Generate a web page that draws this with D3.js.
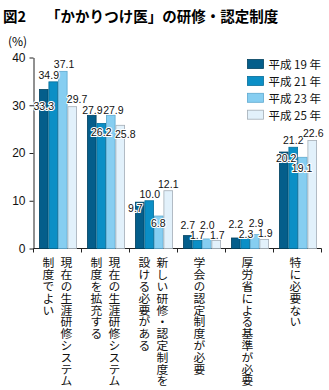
<!DOCTYPE html>
<html>
<head>
<meta charset="utf-8">
<script src="https://cdn.jsdelivr.net/npm/d3@7"></script>
<style>
  html, body { margin: 0; padding: 0; background: #fff; }
  svg { display: block; }
  .jp { font-family: "Noto Sans CJK JP", "Noto Sans", sans-serif; }
  .num { font-family: "Liberation Sans", Arial, sans-serif; }
  .vert { writing-mode: vertical-rl; text-orientation: upright; }
</style>
</head>
<body>
<svg id="chart" width="329" height="390"></svg>
<script>
// Survey answers (%) by year
const categories = [
  ["現在の生涯研修システム", "制度でよい"],
  ["現在の生涯研修システム", "制度を拡充する"],
  ["新しい研修・認定制度を", "設ける必要がある"],
  ["学会の認定制度が必要"],
  ["厚労省による基準が必要"],
  ["特に必要ない"]
];
const seriesNames = ["平成 19 年", "平成 21 年", "平成 23 年", "平成 25 年"];
const h19 = [33.3, 27.9, 9.7, 2.7, 2.2, 20.2];
const h21 = [34.9, 26.2, 10.0, 1.7, 2.3, 21.2];
const h23 = [37.1, 27.9, 6.8, 2.0, 2.9, 19.1];
const h25 = [29.7, 25.8, 12.1, 1.7, 1.9, 22.6];
const yTicks = [0, 10, 20, 30, 40];

const seriesValues = [h19, h21, h23, h25];
const fills   = ["#045e8b", "#0b8fc6", "#86cef1", "#e2f1fb"];
const strokes = ["#03425f", "#076f9a", "#5ea9cf", "#a3adb6"];

// Value label nudges [dx, dy] from bar centre / bar top, one row per category
const labelNudge = [
  [[0, 17], [-4.5, -7], [1.3, -7], [4.8, -7.3]],
  [[0.6, -5], [0, 8.5], [2.6, -5], [5, 9]],
  [[-4.4, 6.5], [0.5, -7], [-0.4, 7.4], [0, -6.4]],
  [[0, -10], [0, -5], [0.6, -13.5], [1, -5]],
  [[0, -13.5], [0.8, -3.5], [1.3, -11], [1, -6]],
  [[2.4, 6.5], [0, -7], [-0.7, 11], [1, -7]]
];

const svg = d3.select("#chart");
const catIdx = categories.map((_, i) => i);

const x = d3.scaleBand().domain(catIdx).range([33.5, 321.5]).padding(0);
const xs = d3.scaleBand().domain(d3.range(seriesNames.length)).range([5.5, 43.5]).padding(0);
const y = d3.scaleLinear().domain([0, 40]).range([248.5, 57.5]);

// Title
svg.append("text").attr("class", "jp").attr("x", 3).attr("y", 22)
  .attr("font-size", 14.5).attr("font-weight", "bold").text("図2");
svg.append("text").attr("class", "jp").attr("x", 46).attr("y", 22)
  .attr("font-size", 14.5).attr("font-weight", "bold").text("「かかりつけ医」の研修・認定制度");

// Unit
svg.append("text").attr("class", "jp").attr("x", 8).attr("y", 46)
  .attr("font-size", 12).text("(%)");

// Y axis
const yAxis = d3.axisLeft(y).tickValues(yTicks).tickSize(4).tickSizeOuter(0).tickPadding(4);
const gy = svg.append("g").attr("transform", "translate(33.5,0)").call(yAxis);
gy.selectAll("text").attr("class", "num").attr("font-size", 12).attr("fill", "#111");
gy.selectAll("line, path").attr("stroke", "#222");

// X axis baseline and separators
const gx = svg.append("g");
gx.append("line").attr("x1", x.range()[0]).attr("x2", x.range()[1])
  .attr("y1", y(0)).attr("y2", y(0)).attr("stroke", "#222");
const bounds = catIdx.map(i => x(i)).concat([x.range()[1]]);
gx.selectAll("line.sep").data(bounds).join("line").attr("class", "sep")
  .attr("x1", d => d).attr("x2", d => d)
  .attr("y1", y(0)).attr("y2", y(0) + 4).attr("stroke", "#222");

// Bars
const groups = svg.append("g").selectAll("g").data(catIdx).join("g")
  .attr("transform", i => `translate(${x(i)},0)`);
groups.selectAll("rect").data(i => seriesValues.map((vals, s) => ({ s, v: vals[i] })))
  .join("rect")
  .attr("x", d => xs(d.s) + 0.4)
  .attr("width", xs.bandwidth() - 0.8)
  .attr("y", d => y(d.v))
  .attr("height", d => y(0) - y(d.v))
  .attr("fill", d => fills[d.s])
  .attr("stroke", d => strokes[d.s])
  .attr("stroke-width", 0.8);

// Value labels with white halo
groups.selectAll("text.val").data(i => seriesValues.map((vals, s) => ({ i, s, v: vals[i] })))
  .join("text").attr("class", "val num")
  .attr("x", d => xs(d.s) + xs.bandwidth() / 2 + labelNudge[d.i][d.s][0])
  .attr("y", d => y(d.v) + labelNudge[d.i][d.s][1])
  .attr("dy", "0.36em")
  .attr("text-anchor", "middle")
  .attr("font-size", 10.5)
  .attr("fill", "#111")
  .attr("stroke", "#fff").attr("stroke-width", 2.2).attr("stroke-linejoin", "round")
  .attr("paint-order", "stroke")
  .text(d => d.v.toFixed(1));

// Vertical category labels, columns right-to-left
const colGap = 18, topY = 257;
groups.each(function (i) {
  const lines = categories[i];
  const g = d3.select(this);
  const cx = x.bandwidth() / 2;
  lines.forEach((line, li) => {
    const colX = cx + ((lines.length - 1) / 2 - li) * colGap - (lines.length === 1 ? 2 : 0);
    g.append("text").attr("class", "jp vert")
      .attr("x", colX).attr("y", topY)
      .attr("font-size", 11.8).attr("fill", "#111").text(line);
  });
});

// Legend
const legend = svg.append("g").selectAll("g").data(seriesNames).join("g")
  .attr("transform", (d, k) => `translate(247.5,${59.5 + k * 16.9})`);
legend.append("rect").attr("width", 16).attr("height", 9)
  .attr("fill", (d, k) => fills[k]).attr("stroke", (d, k) => strokes[k]).attr("stroke-width", 0.8);
legend.append("text").attr("class", "jp").attr("x", 21).attr("y", 4.5)
  .attr("dominant-baseline", "central").attr("font-size", 11.5).attr("fill", "#111")
  .text(d => d);
</script>
</body>
</html>
